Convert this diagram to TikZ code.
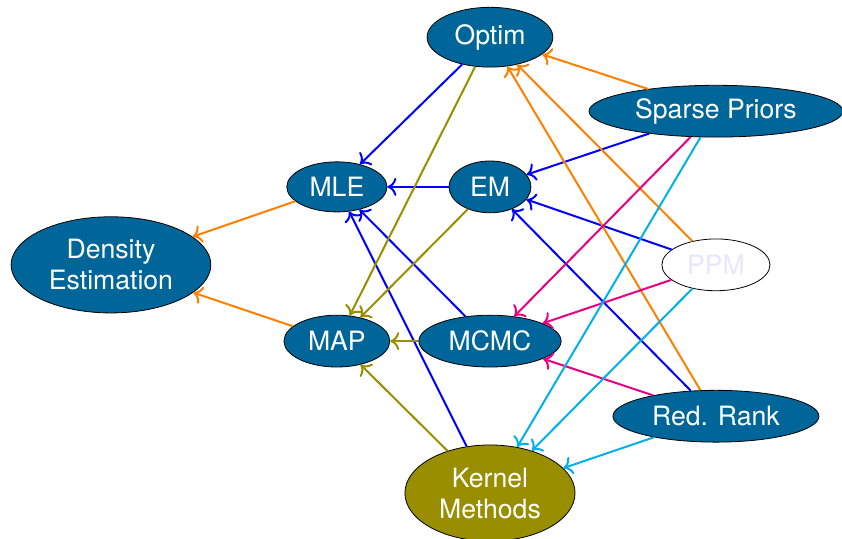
\documentclass[tikz,border=0pt]{standalone}
\usepackage{fontspec}
\setmainfont{TeX Gyre Heros}
\usepackage{tikz}
\usetikzlibrary{shapes,arrows,arrows.meta,positioning}

\definecolor{topicblue}{RGB}{0,102,153}
\definecolor{kernolive}{RGB}{153,142,0}
\definecolor{edgeorange}{RGB}{255,128,0}
\definecolor{edgepink}{RGB}{232,0,130}
\definecolor{edgecyan}{RGB}{0,176,236}
\definecolor{ppmtext}{RGB}{230,230,255}

\begin{document}
\begin{tikzpicture}[
    topic/.style={ellipse, draw=black, fill=topicblue, text=white, inner sep=0pt,
        align=center, font=\fontsize{13.3}{15.5}\selectfont},
    link/.style={-{To[length=4.5pt,width=9pt]}, line width=1pt}
]
    \useasboundingbox (0,0) rectangle (14.796,9.454);

    % topics
    \node[topic, minimum width=2.21cm, minimum height=1.05cm] (optim) at (8.61,8.80) {Optim};
    \node[topic, minimum width=4.46cm, minimum height=0.91cm] (sparse) at (12.58,7.50) {Sparse Priors};
    \node[topic, minimum width=1.76cm, minimum height=0.88cm] (mle) at (5.92,6.17) {MLE};
    \node[topic, minimum width=1.44cm, minimum height=0.91cm] (em) at (8.61,6.17) {EM};
    \node[topic, fill=white, text=ppmtext, minimum width=1.90cm, minimum height=0.91cm] (ppm) at (12.58,4.80) {PPM};
    \node[topic, minimum width=3.51cm, minimum height=1.69cm] (density) at (1.95,4.80) {Density\\Estimation};
    \node[topic, minimum width=1.86cm, minimum height=0.91cm] (map) at (5.92,3.46) {MAP};
    \node[topic, minimum width=2.50cm, minimum height=0.91cm] (mcmc) at (8.61,3.46) {MCMC};
    \node[topic, minimum width=3.62cm, minimum height=0.91cm] (redrank) at (12.58,2.14) {Red. Rank};
    \node[topic, fill=kernolive, minimum width=2.99cm, minimum height=1.69cm] (kernel) at (8.61,0.79) {Kernel\\Methods};

    % blue
    \draw[link, blue] (optim) -- (mle);
    \draw[link, blue] (em) -- (mle);
    \draw[link, blue] (mcmc) -- (mle);
    \draw[link, blue] (kernel) -- (mle);
    \draw[link, blue] (sparse) -- (em);
    \draw[link, blue] (ppm) -- (em);
    \draw[link, blue] (redrank) -- (em);

    % olive
    \draw[link, kernolive] (optim) -- (map);
    \draw[link, kernolive] (em) -- (map);
    \draw[link, kernolive] (mcmc) -- (map);
    \draw[link, kernolive] (kernel) -- (map);

    % orange
    \draw[link, edgeorange] (mle) -- (density);
    \draw[link, edgeorange] (map) -- (density);
    \draw[link, edgeorange] (sparse) -- (optim);
    \draw[link, edgeorange] (ppm) -- (optim);
    \draw[link, edgeorange] (redrank) -- (optim);

    % pink
    \draw[link, edgepink] (sparse) -- (mcmc);
    \draw[link, edgepink] (ppm) -- (mcmc);
    \draw[link, edgepink] (redrank) -- (mcmc);

    % cyan
    \draw[link, edgecyan] (sparse) -- (kernel);
    \draw[link, edgecyan] (ppm) -- (kernel);
    \draw[link, edgecyan] (redrank) -- (kernel);
\end{tikzpicture}
\end{document}
